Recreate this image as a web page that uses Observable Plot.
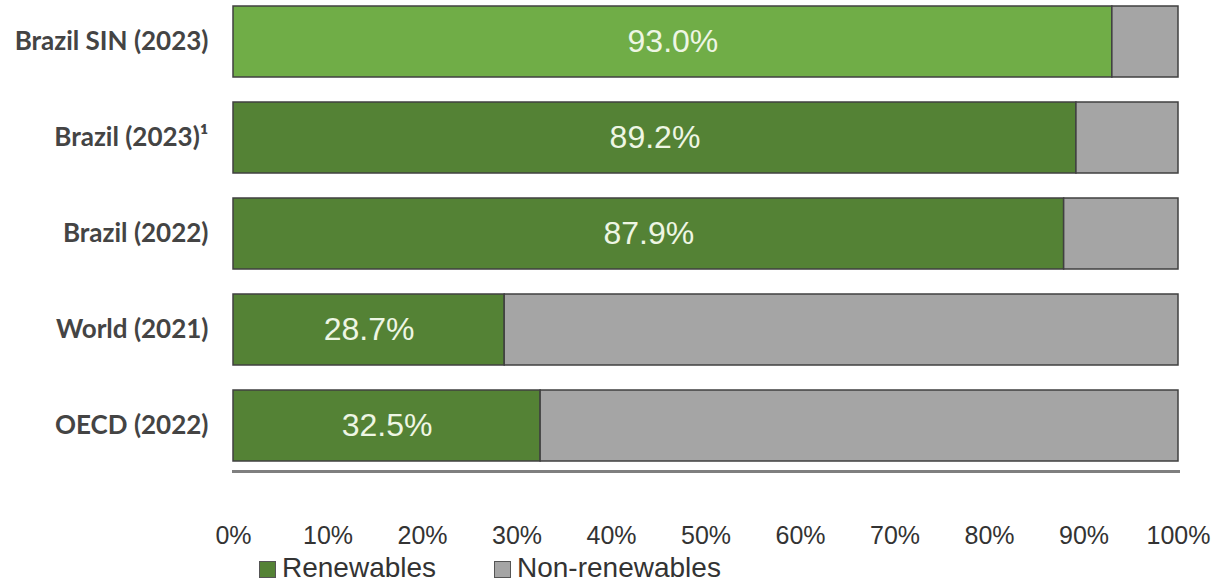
<!DOCTYPE html>
<html>
<head>
<meta charset="utf-8">
<script src="https://cdn.jsdelivr.net/npm/d3@7"></script>
<script src="https://cdn.jsdelivr.net/npm/@observablehq/plot@0.6"></script>
<style>
  html, body { margin: 0; padding: 0; background: #ffffff; }
  #chart { width: 1214px; position: relative; }
  .legend { position: absolute; left: 0; top: 554px; width: 1214px; height: 28px; font-family: "Liberation Sans", Arial, sans-serif; font-size: 28px; color: #333333; }
  .legend .item { position: absolute; top: 0; display: flex; align-items: center; line-height: 28px; height: 28px; }
  .legend .sw { width: 17px; height: 17px; border: 1px solid #555555; box-sizing: border-box; margin-right: 6px; margin-top: 2px; }
</style>
</head>
<body>
<div id="chart"></div>
<script>
const categories = ["Brazil SIN (2023)", "Brazil (2023)¹", "Brazil (2022)", "World (2021)", "OECD (2022)"];
const renewables = [93.0, 89.2, 87.9, 28.7, 32.5];
const nonRenewables = [7.0, 10.8, 12.1, 71.3, 67.5];
const seriesNames = ["Renewables", "Non-renewables"];
const xTicks = [0, 10, 20, 30, 40, 50, 60, 70, 80, 90, 100];

const lightGreen = "#70ad47";
const darkGreen = "#548235";
const grey = "#a5a5a5";

const rows = [];
categories.forEach((c, i) => {
  rows.push({cat: c, series: seriesNames[0], value: renewables[i], start: 0, end: renewables[i], idx: i});
  rows.push({cat: c, series: seriesNames[1], value: nonRenewables[i], start: renewables[i], end: renewables[i] + nonRenewables[i], idx: i});
});
const colorOf = d => d.series === seriesNames[1] ? grey : (d.idx === 0 ? lightGreen : darkGreen);

const chart = Plot.plot({
  width: 1214,
  height: 583,
  marginLeft: 233,
  marginRight: 36,
  marginTop: 5,
  marginBottom: 112,
  style: {background: "#ffffff"},
  x: {domain: [0, 100]},
  y: {domain: categories, paddingInner: 0.26, paddingOuter: 0, insetBottom: 9},
  color: {type: "identity"},
  marks: [
    Plot.barX(rows, {x1: "start", x2: "end", y: "cat", fill: colorOf, stroke: "#404040", strokeWidth: 1.5}),
    Plot.text(rows.filter(d => d.series === seriesNames[0]), {
      x: d => d.end / 2, y: "cat", text: d => d.value.toFixed(1) + "%",
      fill: "#eef6e4", fontSize: 32, fontFamily: "Liberation Sans, Arial, sans-serif"
    }),
    Plot.frame({anchor: "bottom", stroke: "#7f7f7f", strokeWidth: 3}),
    Plot.axisX({ticks: xTicks, tickFormat: d => d + "%", tickSize: 0, tickPadding: 55,
      fontSize: 25, fill: "#333333", fontFamily: "Liberation Sans, Arial, sans-serif", label: null}),
    Plot.axisY({tickSize: 0, tickPadding: 25, fontSize: 26, fontWeight: "bold",
      fill: "#444444", fontFamily: "Lato, Open Sans, sans-serif", label: null})
  ]
});
document.getElementById("chart").appendChild(chart);

const legend = document.createElement("div");
legend.className = "legend";
const legendPos = [259, 494];
seriesNames.forEach((s, i) => {
  const item = document.createElement("div");
  item.className = "item";
  item.style.left = legendPos[i] + "px";
  const sw = document.createElement("div");
  sw.className = "sw";
  sw.style.background = i === 0 ? darkGreen : grey;
  const t = document.createElement("span");
  t.textContent = s;
  item.appendChild(sw);
  item.appendChild(t);
  legend.appendChild(item);
});
document.getElementById("chart").appendChild(legend);
</script>
</body>
</html>
